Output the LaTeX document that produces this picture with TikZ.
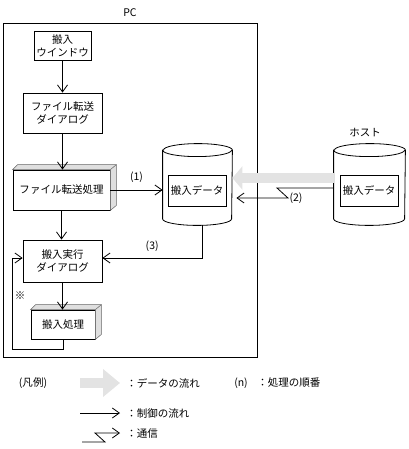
\documentclass[tikz,border=0pt]{standalone}
\usepackage{fontspec}
\setmainfont{Noto Sans CJK JP}
\usetikzlibrary{arrows.meta}
\newcommand\solidshade[1]{%
  \draw[fill=gray!25, draw=black!60, line width=0.5pt]
    (#1.north west) -- ([shift={(5,-5)}]#1.north west) -- ([shift={(6,-5)}]#1.north east)
    -- ([shift={(6,-5)}]#1.south east) -- (#1.south east) -- (#1.north east) -- cycle;
  \draw[line width=0.5pt, draw=black!60] (#1.north east) -- ([shift={(6,-5)}]#1.north east);}
\newcommand\drawcyl[2]{% name, x radius
  \draw[fill=white] ([shift={(0,6.5)}]#1.north west) -- ([shift={(0,-6.5)}]#1.south west)
    arc[start angle=180, end angle=360, x radius=#2pt, y radius=6.5pt]
    -- ([shift={(0,6.5)}]#1.north east)
    arc[start angle=0, end angle=180, x radius=#2pt, y radius=6.5pt] -- cycle;
  \draw ([shift={(0,6.5)}]#1.north west) arc[start angle=180, end angle=360, x radius=#2pt, y radius=6.5pt];}
\begin{document}
\begin{tikzpicture}[x=1pt, y=-1pt,
  font=\fontsize{10.5pt}{13pt}\selectfont,
  line width=0.8pt,
  ctrl/.style={-{Straight Barb[length=7pt,width=10pt]}},
  box/.style={draw, fill=white, align=center, inner sep=0pt},
  ghost/.style={inner sep=0pt},
  garrow/.style={line width=10pt, draw=gray!22, -{Triangle[length=10pt,width=23pt]}},
  garrowleg/.style={line width=10pt, draw=gray!22, -{Triangle[length=17pt,width=27pt]}},
  lbl/.style={inner sep=0pt}]
\useasboundingbox (0,0) rectangle (408,449);
% PC frame
\node[lbl] (pclbl) at (130,13) {PC};
\node[draw, minimum width=254pt, minimum height=334pt, inner sep=0pt] (pcframe) at (130,190) {};
\node[lbl] (hostlbl) at (365,133) {ホスト};
% boxes
\node[box, minimum width=57pt, minimum height=29pt] (win) at (62.5,45.5) {搬入\\ウインドウ};
\node[box, minimum width=79pt, minimum height=40pt] (fdlg) at (62.5,113) {ファイル転送\\ダイアログ};
\node[box, minimum width=97pt, minimum height=40pt] (fproc) at (61.5,190) {ファイル転送処理};
\solidshade{fproc}
\node[box, minimum width=79pt, minimum height=42pt] (jdlg) at (62.5,261) {搬入実行\\ダイアログ};
\node[box, minimum width=64pt, minimum height=29pt] (hproc) at (63,324.5) {搬入処理};
\solidshade{hproc}
% cylinders
\node[ghost, minimum width=69pt, minimum height=81pt] (lcyl) at (197.5,184.5) {};
\drawcyl{lcyl}{34.5}
\node[box, minimum width=58pt, minimum height=31pt] (ldata) at (197,190.5) {搬入データ};
\node[ghost, minimum width=71pt, minimum height=81pt] (hcyl) at (369.5,184.5) {};
\drawcyl{hcyl}{35.5}
\node[box, minimum width=58pt, minimum height=31pt] (hdata) at (369,190.5) {搬入データ};
% control flow
\draw[ctrl] (win.south) -- (win.south |- fdlg.north);
\draw[ctrl] (fdlg.south) -- (fdlg.south |- fproc.north);
\draw[ctrl] (fproc.south) -- (fproc.south |- jdlg.north);
\draw[ctrl] (jdlg.south) -- (jdlg.south |- hproc.north);
\draw[ctrl] (fproc.east) -- node[lbl, above=7pt, pos=0.5] (n1) {(1)} (fproc.east -| lcyl.west);
\draw[ctrl] ([shift={(4.5,0)}]lcyl.south) |- node[lbl, pos=0.75, above=6pt] (n3) {(3)} ([shift={(0,-3)}]jdlg.east);
\coordinate (loopc) at (12,349);
\draw[ctrl] (hproc.south) |- (loopc) |- ([shift={(0,-3)}]jdlg.west);
\node[lbl] (kome) at (20,296) {※};
% data flow
\draw[garrow] ([shift={(0,-6.5)}]hcyl.west) -- ([shift={(0,-6.5)}]lcyl.east);
% communication
\coordinate (c2b) at (277,188);
\coordinate (c2a) at (288,198);
\draw[ctrl] ([shift={(0,3.5)}]hcyl.west) -- (c2b) -- (c2a) -- ([shift={(4,13.5)}]lcyl.east);
\node[lbl] (n2) at (296,198) {(2)};
% legend
\node[lbl] (legt) at (33,383) {(凡例)};
\coordinate (lg1) at (80,383); \coordinate (lg2) at (120,383);
\draw[garrowleg] (lg1) -- (lg2);
\node[lbl, anchor=west] (legd) at (126,383) {：データの流れ};
\node[lbl] (legn) at (241,383) {(n)};
\node[lbl, anchor=west] (legnt) at (257,383) {：処理の順番};
\coordinate (lc1) at (80,413); \coordinate (lc2) at (120,413);
\draw[ctrl] (lc1) -- (lc2);
\node[lbl, anchor=west] (legc) at (126,413) {：制御の流れ};
\coordinate (lm1) at (82,442); \coordinate (lm2) at (105,442);
\coordinate (lm3) at (95,433); \coordinate (lm4) at (120,433);
\draw[ctrl] (lm1) -- (lm2) -- (lm3) -- (lm4);
\node[lbl, anchor=west] (legm) at (126,434) {：通信};
\end{tikzpicture}
\end{document}
